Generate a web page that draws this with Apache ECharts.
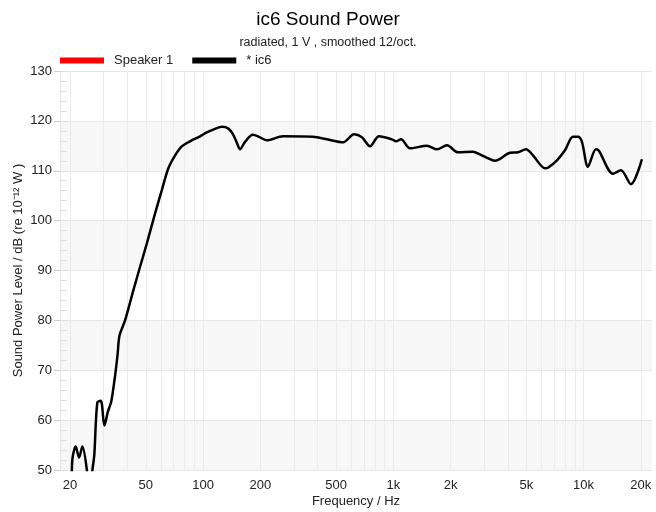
<!DOCTYPE html>
<html>
<head>
<meta charset="utf-8">
<script src="https://cdn.jsdelivr.net/npm/echarts@6/dist/echarts.min.js"></script>
<style>
    html, body { margin: 0; padding: 0; background: #fff; }
    #chart { width: 656px; height: 512px; }
</style>
</head>
<body>
<div id="chart"></div>
<script>
// measured curve, frequency in Hz and level in dB
var freqHz = [20.4, 20.6, 21.4, 22.3, 23.2, 24.5, 25.2, 26.2, 26.8, 27.8, 29.0, 30.3, 31.6, 32.9,
    34.5, 35.5, 36.4, 38.9, 43.0, 46.6, 50.6, 55.9, 60.7, 65.7, 71.3, 77.3, 85.4, 96.4,
    104.6, 115.6, 125.8, 135.3, 143.7, 150.9, 156.4, 166.2, 182.5, 194.5, 216.1, 263.3,
    378.4, 448.2, 544.2, 621.7, 684.4, 754.4, 841.2, 984.2, 1033, 1098, 1224, 1503, 1697,
    1915, 2188, 2622, 2854, 3107, 3423, 4104, 4522, 4980, 5420, 6268, 6500, 7248, 7986,
    8796, 9343, 9806, 10544, 11616, 12044, 14270, 15722, 17744, 20268];
var splDb = [48.0, 52.4, 54.7, 52.5, 54.7, 50.0, 44.0, 50.0, 53.0, 63.5, 63.9, 58.9, 61.7, 63.7,
    69.0, 73.0, 77.0, 80.0, 86.0, 90.7, 95.4, 101.4, 106.1, 110.5, 113.1, 114.9, 115.9, 116.9,
    117.7, 118.4, 118.8, 118.5, 117.3, 115.5, 114.3, 115.8, 117.2, 116.9, 116.1, 116.9,
    116.8, 116.3, 115.7, 117.3, 116.7, 114.9, 116.9, 116.3, 115.9, 116.3, 114.5, 115.0, 114.3,
    115.1, 113.7, 113.8, 113.3, 112.6, 112.0, 113.6, 113.7, 114.3, 113.1, 110.5, 110.6, 112.1, 114.1,
    116.8, 116.8, 115.8, 110.8, 114.3, 114.0, 109.4, 110.1, 107.3, 112.3];

var xTickHz = [20, 50, 100, 200, 500, 1000, 2000, 5000, 10000, 20000];
var xTickLabels = ['20', '50', '100', '200', '500', '1k', '2k', '5k', '10k', '20k'];
var gridHz = [20, 30, 40, 50, 60, 70, 80, 90, 100, 200, 300, 400, 500, 600, 700, 800, 900,
    1000, 2000, 3000, 4000, 5000, 6000, 7000, 8000, 9000, 10000, 20000];

var fontFamily = '"Liberation Sans", Arial, Helvetica, sans-serif';
var chart = echarts.init(document.getElementById('chart'));

var xMin = Math.log10(17.7);
var xMax = Math.log10(22900);

chart.setOption({
    animation: false,
    textStyle: {fontFamily: fontFamily},
    title: {
        text: 'ic6 Sound Power',
        subtext: 'radiated, 1 V , smoothed 12/oct.',
        left: 'center',
        top: 5,
        itemGap: 7,
        textStyle: {fontSize: 19, fontWeight: 'normal', color: '#000', fontFamily: fontFamily},
        subtextStyle: {fontSize: 12.5, color: '#222', fontFamily: fontFamily}
    },
    legend: {
        left: 55,
        top: 49,
        icon: 'rect',
        itemWidth: 44,
        itemHeight: 6,
        itemGap: 19,
        textStyle: {fontSize: 13, color: '#222', padding: [0, 0, 0, 5]},
        data: ['Speaker 1', '* ic6']
    },
    grid: {left: 60, right: 4, top: 71, bottom: 42, outerBoundsMode: 'none'},
    graphic: [{
        type: 'text',
        right: 8,
        top: 73,
        style: {text: 'KLIPPEL', fontSize: 5, fontWeight: 'bold', fill: '#6f9fd0'}
    }],
    xAxis: [
        {
            type: 'value',
            min: xMin,
            max: xMax,
            name: 'Frequency / Hz',
            nameLocation: 'middle',
            nameGap: 25,
            nameMoveOverlap: false,
            nameTextStyle: {fontSize: 13, color: '#222'},
            axisLine: {show: false},
            axisTick: {show: false},
            splitLine: {show: false},
            axisLabel: {
                fontSize: 13,
                color: '#222',
                margin: 9,
                customValues: xTickHz.map(function (f) { return Math.log10(f); }),
                formatter: function (v) {
                    var f = Math.pow(10, v);
                    var best = 0;
                    xTickHz.forEach(function (t, i) {
                        if (Math.abs(t - f) < Math.abs(xTickHz[best] - f)) best = i;
                    });
                    return xTickLabels[best];
                }
            }
        },
        {
            // vertical grid lines
            type: 'value',
            min: xMin,
            max: xMax,
            position: 'bottom',
            z: 1,
            axisLine: {show: false},
            axisLabel: {show: false},
            splitLine: {show: false},
            axisTick: {
                show: true,
                inside: true,
                length: 399,
                customValues: gridHz.map(function (f) { return Math.log10(f); }),
                lineStyle: {color: '#ebebeb', width: 1}
            }
        }
    ],
    yAxis: [
        {
            type: 'value',
            min: 50,
            max: 130,
            interval: 10,
            position: 'left',
            name: 'Sound Power Level / dB (re 10\u207B\u00B9\u00B2 W )',
            nameLocation: 'middle',
            nameGap: 35,
            nameMoveOverlap: false,
            nameTextStyle: {fontSize: 13, color: '#222'},
            axisLine: {show: true, lineStyle: {color: '#e6e6e6'}},
            axisTick: {show: true, length: 6, lineStyle: {color: '#cccccc'}},
            axisLabel: {fontSize: 13, color: '#222', margin: 8},
            splitLine: {show: true, lineStyle: {color: '#e6e6e6'}},
            splitArea: {show: true, areaStyle: {color: ['#f7f7f7', '#ffffff']}}
        },
        {
            // small inside ticks every 2 dB
            type: 'value',
            min: 50,
            max: 130,
            interval: 2,
            position: 'left',
            axisLine: {show: false},
            axisLabel: {show: false},
            splitLine: {show: false},
            axisTick: {show: true, inside: true, length: 7, lineStyle: {color: '#dddddd'}}
        }
    ],
    series: [
        {
            name: 'Speaker 1',
            type: 'line',
            color: '#ff0000',
            showSymbol: false,
            data: []
        },
        {
            name: '* ic6',
            type: 'line',
            color: '#000000',
            showSymbol: false,
            smooth: 0.3,
            clip: true,
            lineStyle: {width: 2.5, color: '#000'},
            z: 3,
            data: freqHz.map(function (f, i) { return [Math.log10(f), splDb[i]]; })
        }
    ]
});
</script>
</body>
</html>
